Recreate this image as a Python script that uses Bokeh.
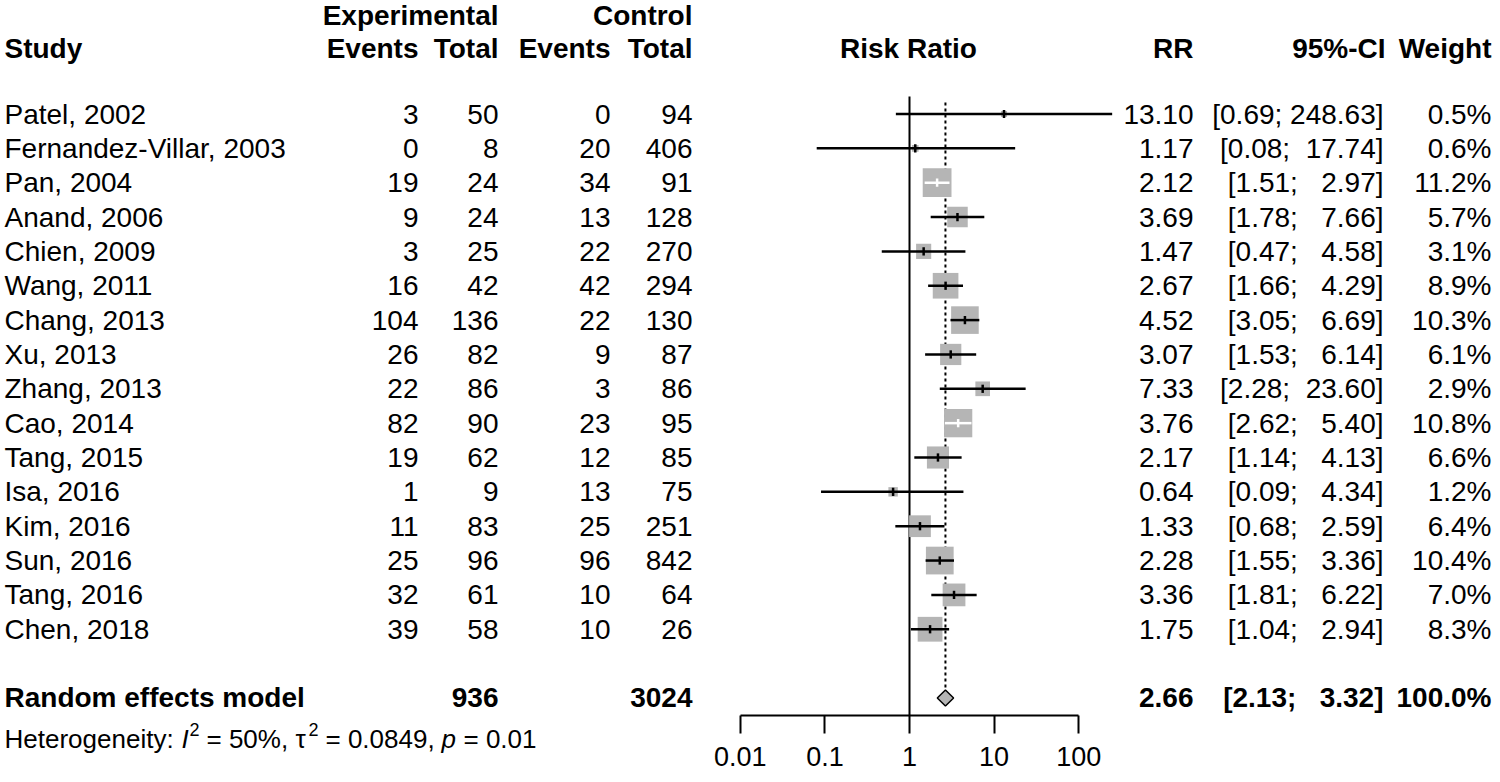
import math
from bokeh.plotting import figure
from bokeh.models import Range1d, LogScale, LogAxis, FixedTicker
from bokeh.core.properties import value
from bokeh.embed import file_html
from bokeh.resources import INLINE

# ---------------- data ----------------
studies = ["Patel, 2002", "Fernandez-Villar, 2003", "Pan, 2004", "Anand, 2006",
           "Chien, 2009", "Wang, 2011", "Chang, 2013", "Xu, 2013", "Zhang, 2013",
           "Cao, 2014", "Tang, 2015", "Isa, 2016", "Kim, 2016", "Sun, 2016",
           "Tang, 2016", "Chen, 2018"]
exp_events = [3, 0, 19, 9, 3, 16, 104, 26, 22, 82, 19, 1, 11, 25, 32, 39]
exp_total = [50, 8, 24, 24, 25, 42, 136, 82, 86, 90, 62, 9, 83, 96, 61, 58]
ctl_events = [0, 20, 34, 13, 22, 42, 22, 9, 3, 23, 12, 13, 25, 96, 10, 10]
ctl_total = [94, 406, 91, 128, 270, 294, 130, 87, 86, 95, 85, 75, 251, 842, 64, 26]
rr = [13.10, 1.17, 2.12, 3.69, 1.47, 2.67, 4.52, 3.07, 7.33, 3.76, 2.17, 0.64,
      1.33, 2.28, 3.36, 1.75]
ci_lo = [0.69, 0.08, 1.51, 1.78, 0.47, 1.66, 3.05, 1.53, 2.28, 2.62, 1.14, 0.09,
         0.68, 1.55, 1.81, 1.04]
ci_hi = [248.63, 17.74, 2.97, 7.66, 4.58, 4.29, 6.69, 6.14, 23.60, 5.40, 4.13,
         4.34, 2.59, 3.36, 6.22, 2.94]
weight = [0.5, 0.6, 11.2, 5.7, 3.1, 8.9, 10.3, 6.1, 2.9, 10.8, 6.6, 1.2, 6.4,
          10.4, 7.0, 8.3]
pooled = [2.66, 2.13, 3.32]          # RR, lower, upper
pooled_weight = 100.0
exp_sum = 936
ctl_sum = 3024
axis_ticks = [0.01, 0.1, 1, 10, 100]
axis_tick_labels = ["0.01", "0.1", "1", "10", "100"]
het_I2 = "50%"
het_tau2 = "0.0849"
het_p = "0.01"

# ---------------- layout ----------------
FONT = "Liberation Sans"
FS = "28px"
W, H = 1492, 778
ROW0, ROWH = 113.5, 34.35      # pixel y of first row and row spacing
DEC, ONE_PX = 84.6, 909.0      # pixels per decade, pixel of RR = 1
GRAY = "#b5b5b5"
NB = "\u00a0"


def row_of(py):
    return (py - ROW0) / ROWH


p = figure(width=W, height=H, x_range=Range1d(0, W),
           y_range=Range1d(row_of(H), row_of(0)),
           x_axis_type=None, y_axis_type=None, toolbar_location=None,
           output_backend="svg", min_border=0, outline_line_color=None,
           background_fill_color="white", border_fill_color="white")
p.extra_x_ranges = {"rr": Range1d(10 ** ((0 - ONE_PX) / DEC),
                                  10 ** ((W - ONE_PX) / DEC))}
p.extra_x_scales = {"rr": LogScale()}


def txt(x, y, s, align="left", style="normal", size=FS):
    p.text(x=x, y=y, text=s, text_align=align, text_baseline="middle",
           text_font=value(FONT), text_font_size=value(size),
           text_font_style=style, text_color="black")


rows = list(range(len(studies)))
sum_row = 17
axis_row = row_of(715)
hdr1 = row_of(15)
hdr2 = row_of(48)
het_row = row_of(738)

# headers
txt([498, 692], [hdr1] * 2, ["Experimental", "Control"], "right", "bold")
txt([4], [hdr2], ["Study"], "left", "bold")
txt([418, 498, 610, 692, 1193, 1385, 1491], [hdr2] * 7,
    ["Events", "Total", "Events", "Total", "RR", "95%-CI", "Weight"], "right", "bold")
txt([908], [hdr2], ["Risk Ratio"], "center", "bold")


def ci_str(lo, hi):
    return "[" + f"{lo:.2f}" + ";" + NB + f"{hi:.2f}".rjust(6, NB) + "]"


# study rows
txt([4] * len(rows), rows, studies, "left")
txt([418] * len(rows), rows, [str(v) for v in exp_events], "right")
txt([498] * len(rows), rows, [str(v) for v in exp_total], "right")
txt([610] * len(rows), rows, [str(v) for v in ctl_events], "right")
txt([692] * len(rows), rows, [str(v) for v in ctl_total], "right")
txt([1193] * len(rows), rows, [f"{v:.2f}" for v in rr], "right")
txt([1383] * len(rows), rows, [ci_str(a, b) for a, b in zip(ci_lo, ci_hi)], "right")
txt([1491] * len(rows), rows, [f"{w:.1f}%" for w in weight], "right")

# summary row
txt([4], [sum_row], ["Random effects model"], "left", "bold")
txt([498, 692], [sum_row] * 2, [str(exp_sum), str(ctl_sum)], "right", "bold")
txt([1193], [sum_row], [f"{pooled[0]:.2f}"], "right", "bold")
txt([1383], [sum_row], [ci_str(pooled[1], pooled[2])], "right", "bold")
txt([1491], [sum_row], [f"{pooled_weight:.1f}%"], "right", "bold")

# heterogeneity line (pieces)
HS = "26px"
SUP = "18px"
sup_dy = -0.27
txt([4], [het_row], ["Heterogeneity:"], "left", "normal", HS)
txt([181], [het_row], ["I"], "left", "italic", HS)
txt([189], [het_row + sup_dy], ["2"], "left", "normal", SUP)
txt([206], [het_row], ["= " + het_I2 + ","], "left", "normal", HS)
txt([295], [het_row], ["\u03c4"], "left", "normal", HS)
txt([308], [het_row + sup_dy], ["2"], "left", "normal", SUP)
txt([325], [het_row], ["= " + het_tau2 + ","], "left", "normal", HS)
txt([441], [het_row], ["p"], "left", "italic", HS)
txt([463], [het_row], ["= " + het_p], "left", "normal", HS)

# reference lines
p.segment(x0=[1], y0=[row_of(96)], x1=[1], y1=[axis_row], x_range_name="rr",
          line_color="black", line_width=2)
p.segment(x0=[pooled[0]], y0=[row_of(102)], x1=[pooled[0]], y1=[sum_row - 0.233],
          x_range_name="rr", line_color="black", line_width=2, line_dash="3 3")

# squares (side proportional to sqrt of weight)
sides = [8.6 * math.sqrt(w) for w in weight]
p.scatter(x=rr, y=rows, size=sides, marker="square", fill_color=GRAY,
          line_color=None, x_range_name="rr")

# CI lines: white when they fit inside the square
line_cols = []
for lo, hi, s in zip(ci_lo, ci_hi, sides):
    ci_px = (math.log10(hi) - math.log10(lo)) * DEC
    line_cols.append("white" if ci_px <= s else "black")
p.segment(x0=ci_lo, y0=rows, x1=ci_hi, y1=rows, x_range_name="rr",
          line_color=line_cols, line_width=2.5)
p.segment(x0=rr, y0=[r - 0.12 for r in rows], x1=rr, y1=[r + 0.12 for r in rows],
          x_range_name="rr", line_color=line_cols, line_width=2.5)

# pooled diamond
p.patch(x=[pooled[1], pooled[0], pooled[2], pooled[0]],
        y=[sum_row, sum_row - 0.233, sum_row, sum_row + 0.233],
        x_range_name="rr", fill_color=GRAY, line_color="black", line_width=1.5)

# log axis
ax = LogAxis(x_range_name="rr", fixed_location=axis_row, bounds=(0.01, 100),
             ticker=FixedTicker(ticks=axis_ticks, minor_ticks=[]),
             major_label_overrides={t: l for t, l in zip(axis_ticks, axis_tick_labels)},
             major_tick_in=0, major_tick_out=18, minor_tick_in=0, minor_tick_out=0,
             axis_line_width=2, major_tick_line_width=2,
             major_label_text_font=FONT, major_label_text_font_size="27px",
             major_label_standoff=13, major_label_text_color="black")
p.add_layout(ax, "below")

open("out.html", "w").write(file_html(p, INLINE))
